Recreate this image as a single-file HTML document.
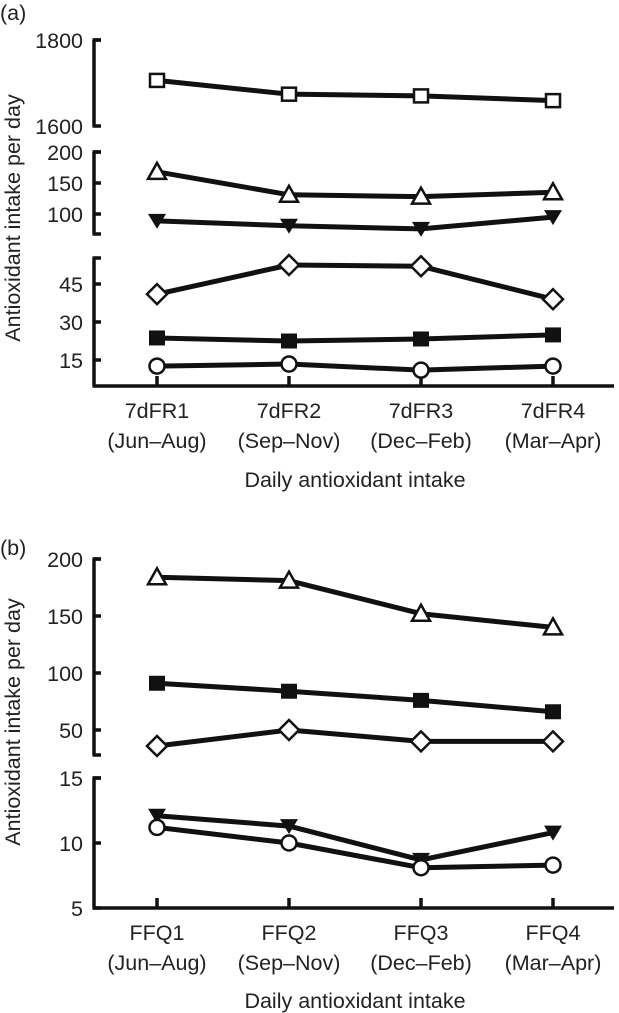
<!DOCTYPE html>
<html><head><meta charset="utf-8"><style>
html,body{margin:0;padding:0;background:#fff;}
svg{display:block;font-family:"Liberation Sans",Arial,sans-serif;}
</style></head><body>
<svg id="c" width="619" height="1013" viewBox="0 0 619 1013"></svg>
<script>
const categoriesA = ["7dFR1","7dFR2","7dFR3","7dFR4"];
const categoriesB = ["FFQ1","FFQ2","FFQ3","FFQ4"];
const periods = ["(Jun–Aug)","(Sep–Nov)","(Dec–Feb)","(Mar–Apr)"];
const aSquareOpen = [1706,1674,1670,1659];
const aTriangle = [168,131,128,135];
const aInvTriangle = [89,81,76,95];
const aDiamond = [41,52.5,52,39];
const aSquareFilled = [23.7,22.5,23.3,24.9];
const aCircle = [12.6,13.4,11,12.6];
const bTriangle = [184,181,152,140];
const bSquareFilled = [91,84,76,66];
const bDiamond = [36,50,40,40];
const bInvTriangle = [12.1,11.3,8.7,10.8];
const bCircle = [11.2,10,8.1,8.3];
const ticksA1 = [1600,1800], ticksA2 = [100,150,200], ticksA3 = [15,30,45];
const ticksB1 = [50,100,150,200], ticksB2 = [5,10,15];

const svg = document.getElementById('c');
const NS = "http://www.w3.org/2000/svg";
const FS = 21.5;
function mk(tag, attrs, parent){const e=document.createElementNS(NS,tag);for(const k in attrs)e.setAttribute(k,attrs[k]);(parent||svg).appendChild(e);return e;}
const xPos = i => 157 + i*132;
function lin(d0,d1,p0,p1){return v=>p0+(v-d0)*(p1-p0)/(d1-d0);}

const yA1 = lin(1600,1800,126,40);
const yA2 = lin(100,200,214,152);
const yA3 = lin(15,45,360,284);
const yB1 = lin(50,200,730,559);
const yB2 = lin(5,15,908,778);

function axisSeg(top, bottom, ticks, scale, name){
  const g = mk('g',{});
  
  
  mk('line',{x1:94,y1:top,x2:94,y2:bottom,stroke:'#111','stroke-width':3.5},g);
  mk('line',{x1:92.5,y1:top,x2:101,y2:top,stroke:'#111','stroke-width':3.5},g);
  ticks.forEach(t=>{
    const y=scale(t);
    mk('line',{x1:92.5,y1:y,x2:101,y2:y,stroke:'#111','stroke-width':3.5},g);
    const tx=mk('text',{x:83,y:y+8,'text-anchor':'end','font-size':FS,fill:'#222'},g);
    tx.textContent=t;
    
    
  });
  return g;
}
function capBottom(y){mk('line',{x1:92.5,y1:y,x2:101,y2:y,stroke:'#111','stroke-width':3.5});}

function xAxis(y, cats, name, titleY){
  const g=mk('g',{});
  
  
  mk('line',{x1:92.5,y1:y,x2:614,y2:y,stroke:'#111','stroke-width':3.5},g);
  cats.forEach((c,i)=>{
    const x=xPos(i);
    mk('line',{x1:x,y1:y,x2:x,y2:y-10,stroke:'#111','stroke-width':3.5},g);
    const t1=mk('text',{x:x,y:y+32,'text-anchor':'middle','font-size':FS,fill:'#222'},g);
    t1.textContent=c;
    
    
    const t2=mk('text',{x:x,y:y+62,'text-anchor':'middle','font-size':FS,fill:'#222'},g);
    t2.textContent=periods[i];
    
    
  });
  const tt=mk('text',{x:355,y:titleY,'text-anchor':'middle','font-size':FS,fill:'#222'},g);
  tt.textContent='Daily antioxidant intake';
  
  
}

function marker(g,type,x,y){
  const s='#111', w=2.5;
  if(type==='sq') mk('rect',{x:x-7,y:y-6.5,width:14,height:13,fill:'#fff',stroke:s,'stroke-width':w},g);
  else if(type==='sqf') mk('rect',{x:x-8,y:y-7.5,width:16,height:15,fill:s},g);
  else if(type==='tri') mk('polygon',{points:`${x},${y-9} ${x-9},${y+7} ${x+9},${y+7}`,fill:'#fff',stroke:s,'stroke-width':w},g);
  else if(type==='itri') mk('polygon',{points:`${x-9},${y-7} ${x+9},${y-7} ${x},${y+8}`,fill:s},g);
  else if(type==='dia') mk('polygon',{points:`${x},${y-10} ${x+10},${y} ${x},${y+10} ${x-10},${y}`,fill:'#fff',stroke:s,'stroke-width':w},g);
  else if(type==='cir') mk('circle',{cx:x,cy:y,r:7.5,fill:'#fff',stroke:s,'stroke-width':w},g);
}
function series(vals, scale, type, name){
  const g=mk('g',{});
  
  
  const pts=vals.map((v,i)=>xPos(i)+','+scale(v)).join(' ');
  mk('polyline',{points:pts,fill:'none',stroke:'#111','stroke-width':5,'stroke-linejoin':'round'},g);
  vals.forEach((v,i)=>marker(g,type,xPos(i),scale(v)));
}
function label(txt,x,y,name){const t=mk('text',{x:x,y:y,'font-size':FS,fill:'#222'});t.textContent=txt;}
function yTitle(cy,name){const t=mk('text',{x:0,y:0,'text-anchor':'middle','font-size':FS,fill:'#222',transform:`translate(20,${cy}) rotate(-90)`});t.textContent='Antioxidant intake per day';}

label('(a)',0,20,'panel-a-label');
axisSeg(40,126,ticksA1,yA1,'y-axis-a-upper');
axisSeg(152,234,ticksA2,yA2,'y-axis-a-middle'); capBottom(234);
axisSeg(258,386,ticksA3,yA3,'y-axis-a-lower');
xAxis(386,categoriesA,'x-axis-a',487);
yTitle(218,'y-axis-title-a');
series(aSquareOpen,yA1,'sq','series-a-open-square');
series(aTriangle,yA2,'tri','series-a-triangle');
series(aInvTriangle,yA2,'itri','series-a-inverted-triangle');
series(aDiamond,yA3,'dia','series-a-diamond');
series(aSquareFilled,yA3,'sqf','series-a-filled-square');
series(aCircle,yA3,'cir','series-a-circle');

label('(b)',0,555,'panel-b-label');
axisSeg(559,755,ticksB1,yB1,'y-axis-b-upper'); capBottom(755);
axisSeg(778,908,ticksB2,yB2,'y-axis-b-lower');
xAxis(908,categoriesB,'x-axis-b',1008);
yTitle(722,'y-axis-title-b');
series(bTriangle,yB1,'tri','series-b-triangle');
series(bSquareFilled,yB1,'sqf','series-b-filled-square');
series(bDiamond,yB1,'dia','series-b-diamond');
series(bInvTriangle,yB2,'itri','series-b-inverted-triangle');
series(bCircle,yB2,'cir','series-b-circle');
</script>
</body></html>
